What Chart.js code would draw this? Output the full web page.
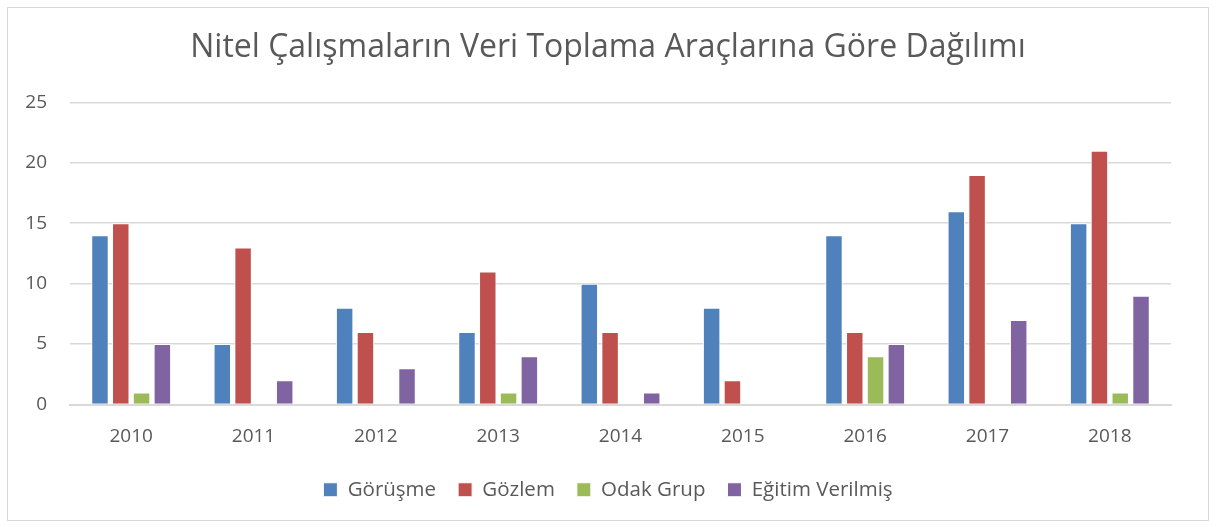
<!DOCTYPE html>
<html lang="tr">
<head>
<meta charset="UTF-8">
<title>Nitel Çalışmaların Veri Toplama Araçlarına Göre Dağılımı</title>
<script src="https://cdn.jsdelivr.net/npm/chart.js@4.4.1/dist/chart.umd.min.js"></script>
<style>
    body { margin: 0; background: #fff; }
    .frame {
        position: absolute;
        left: 7px; top: 7px;
        width: 1200px; height: 512px;
        border: 1px solid #d9d9d9;
    }
    .frame canvas { display: block; }
</style>
</head>
<body>
<div class="frame"><canvas id="chart" width="1200" height="512"></canvas></div>
<script>
// veriler
const years = ['2010', '2011', '2012', '2013', '2014', '2015', '2016', '2017', '2018'];
const gorusme = [14, 5, 8, 6, 10, 8, 14, 16, 15];
const gozlem = [15, 13, 6, 11, 6, 2, 6, 19, 21];
const odakGrup = [1, 0, 0, 1, 0, 0, 4, 0, 1];
const egitim = [5, 2, 3, 4, 1, 0, 5, 7, 9];
const yTicks = [0, 5, 10, 15, 20, 25];

const font = "'Open Sans', 'Noto Sans', sans-serif";
const gray = '#595959';

function series(label, data, color) {
    return {
        label: label,
        data: data,
        backgroundColor: color,
        borderColor: '#ffffff',
        borderWidth: 1,
        categoryPercentage: 0.68,
        barPercentage: 0.84
    };
}

new Chart(document.getElementById('chart'), {
    type: 'bar',
    data: {
        labels: years,
        datasets: [
            series('Görüşme', gorusme, '#4f81bd'),
            series('Gözlem', gozlem, '#c0504d'),
            series('Odak Grup', odakGrup, '#9bbb59'),
            series('Eğitim Verilmiş', egitim, '#8064a2')
        ]
    },
    options: {
        responsive: false,
        animation: false,
        layout: { padding: { left: 0, right: 0, top: 0, bottom: 10 } },
        plugins: {
            title: {
                display: true,
                text: 'Nitel Çalışmaların Veri Toplama Araçlarına Göre Dağılımı',
                color: gray,
                font: { family: font, size: 32, weight: 'normal' },
                padding: { top: 21, bottom: 35 }
            },
            legend: {
                position: 'bottom',
                labels: {
                    color: gray,
                    font: { family: font, size: 20.5 },
                    boxWidth: 14,
                    boxHeight: 14,
                    padding: 22
                }
            },
            tooltip: { enabled: false }
        },
        scales: {
            x: {
                grid: { display: false, drawTicks: false },
                border: { color: '#d9d9d9', width: 2 },
                ticks: { color: gray, font: { family: font, size: 19 }, padding: 21 },
                afterFit: function(scale) { scale.height = 53; }
            },
            y: {
                min: 0,
                max: 25,
                afterBuildTicks: function(scale) {
                    scale.ticks = yTicks.map(v => ({ value: v }));
                },
                grid: { color: '#d9d9d9', lineWidth: 1.5, drawTicks: false },
                border: { display: false },
                ticks: { color: gray, font: { family: font, size: 19 }, padding: 23 },
                afterFit: function(scale) { scale.width = 62; }
            },
            // boş sağ eksen: çizim alanını sola çeker, başlık ve açıklama ortada kalır
            spacer: {
                type: 'linear',
                position: 'right',
                grid: { display: false, drawTicks: false },
                border: { display: false },
                ticks: { display: false },
                afterFit: function(scale) { scale.width = 37; }
            }
        }
    }
});
</script>
</body>
</html>
